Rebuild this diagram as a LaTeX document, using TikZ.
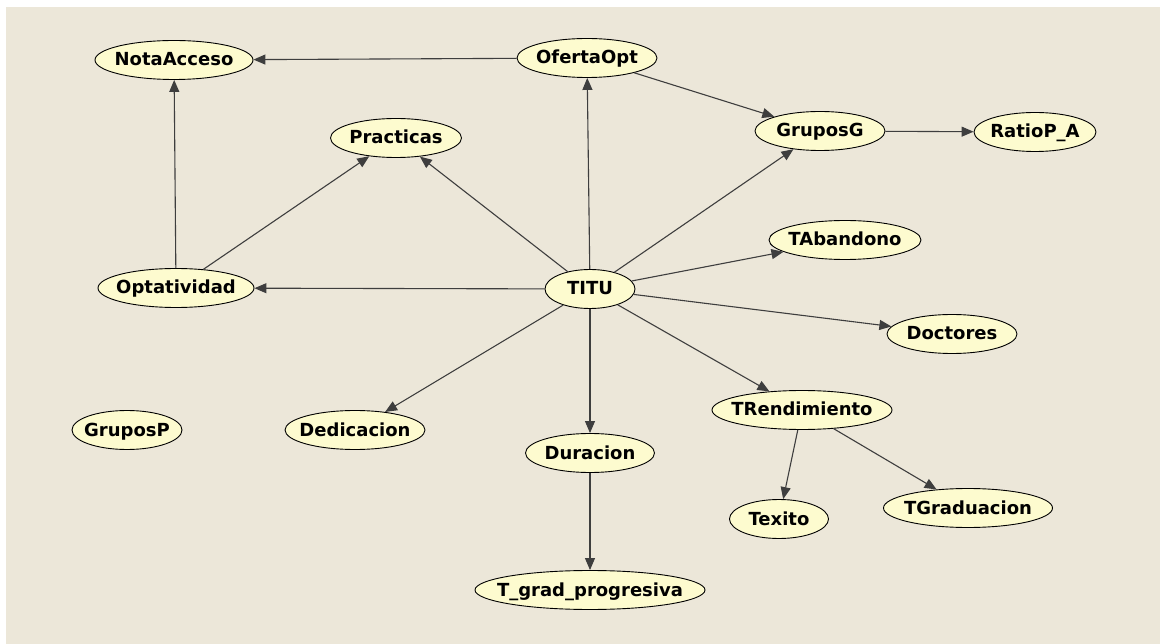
\documentclass[tikz,border=0pt]{standalone}
\usepackage{fontspec}
\setmainfont{DejaVu Sans}
\usetikzlibrary{shapes.geometric,arrows.meta}
\definecolor{canvas}{HTML}{ECE7D9}
\definecolor{nodefill}{HTML}{FDFBCF}
\definecolor{edgecol}{HTML}{3E3E3E}
\tikzset{
  bn/.style={ellipse, draw=black, line width=0.9pt, fill=nodefill,
    minimum width=#1, minimum height=39pt, inner xsep=-40pt, inner ysep=-12pt,
    text height=13pt, text depth=1pt,
    font=\fontsize{18}{20}\selectfont\bfseries},
  link/.style={draw=edgecol, line width=1.1pt,
    -{Triangle[length=12pt,width=10pt]}}
}
\begin{document}
\begin{tikzpicture}[x=1pt,y=-1pt]
\useasboundingbox (0,0) rectangle (1160,644);
\fill[white] (0,0) rectangle (1160,644);
\fill[canvas] (6,7) rectangle (1160,644);

% variables of the network
\node[bn=158] (nota)  at (174,60)  {NotaAcceso};
\node[bn=140] (ofer)  at (587,58)  {OfertaOpt};
\node[bn=130] (grug)  at (820,131) {GruposG};
\node[bn=122] (ratio) at (1035,132) {RatioP\_A};
\node[bn=131] (prac)  at (396,138) {Practicas};
\node[bn=152] (aban)  at (845,240) {TAbandono};
\node[bn=156] (opta)  at (176,288) {Optatividad};
\node[bn=90]  (titu)  at (590,289) {TITU};
\node[bn=130] (doct)  at (952,334) {Doctores};
\node[bn=180] (rend)  at (802,410) {TRendimiento};
\node[bn=110] (grup)  at (127,430) {GruposP};
\node[bn=140] (dedi)  at (355,430) {Dedicacion};
\node[bn=129] (dura)  at (590,453) {Duracion};
\node[bn=99]  (exito) at (779,519) {Texito};
\node[bn=169] (grad)  at (968,508) {TGraduacion};
\node[bn=230] (prog)  at (590,590) {T\_grad\_progresiva};

% dependencies
\draw[link] (ofer) -- (nota);
\draw[link] (opta) -- (nota);
\draw[link] (opta) -- (prac);
\draw[link] (titu) -- (prac);
\draw[link] (titu) -- (ofer);
\draw[link] (titu) -- (grug);
\draw[link] (ofer) -- (grug);
\draw[link] (grug) -- (ratio);
\draw[link] (titu) -- (aban);
\draw[link] (titu) -- (opta);
\draw[link] (titu) -- (doct);
\draw[link] (titu) -- (rend);
\draw[link] (titu) -- (dedi);
\draw[link] (titu) -- (dura);
\draw[link] (dura) -- (prog);
\draw[link] (rend) -- (exito);
\draw[link] (rend) -- (grad);
\end{tikzpicture}
\end{document}
